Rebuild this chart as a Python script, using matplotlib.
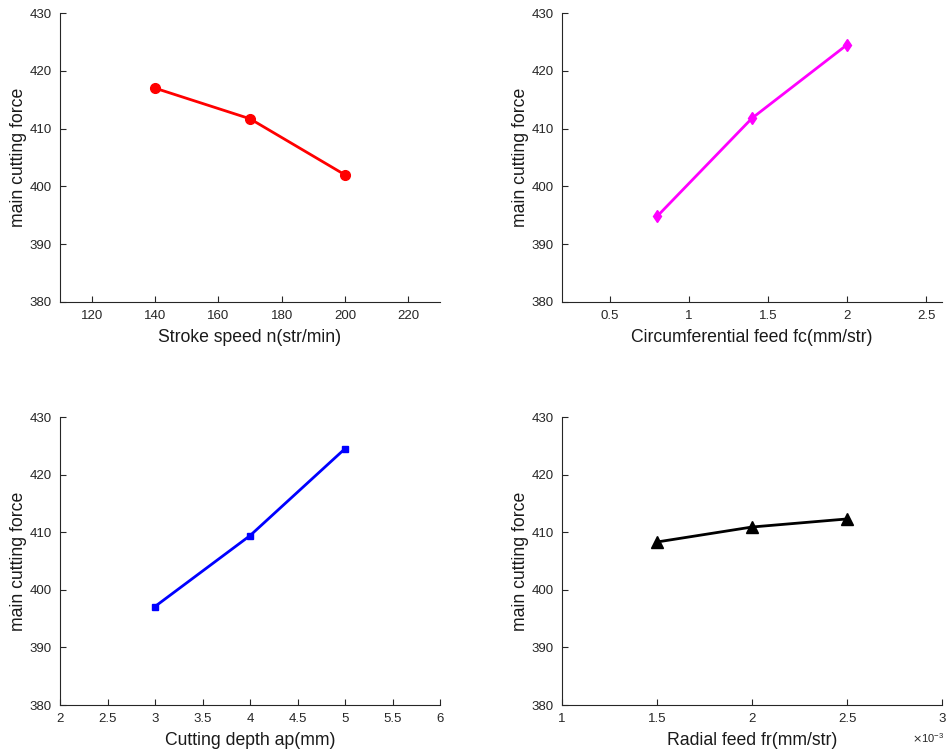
import matplotlib
matplotlib.use("Agg")
import matplotlib.pyplot as plt
from matplotlib.ticker import FuncFormatter, MultipleLocator

plt.rcParams['font.family'] = ['Liberation Sans', 'DejaVu Sans']

# Data
speed = [140, 170, 200]
force_speed = [417.0, 411.7, 402.0]

circ_feed = [0.8, 1.4, 2.0]
force_circ = [394.8, 411.8, 424.5]

depth = [3, 4, 5]
force_depth = [397.1, 409.4, 424.5]

radial_feed = [0.0015, 0.0020, 0.0025]
force_radial = [408.3, 410.9, 412.3]

ylabel = "main cutting force"
xlabels = ["Stroke speed n(str/min)", "Circumferential feed fc(mm/str)",
           "Cutting depth ap(mm)", "Radial feed fr(mm/str)"]

fig = plt.figure(figsize=(9.46, 7.54), dpi=100)
W, H = 946, 754
def axrect(x0, x1, ytop, ybot):
    return [x0 / W, 1 - ybot / H, (x1 - x0) / W, (ybot - ytop) / H]

axes = [
    fig.add_axes(axrect(60, 440, 13, 302)),
    fig.add_axes(axrect(562, 942, 13, 302)),
    fig.add_axes(axrect(60, 440, 417, 705)),
    fig.add_axes(axrect(562, 942, 417, 705)),
]

ax_col = '#262626'
fmt_g = FuncFormatter(lambda v, p: f"{v:g}")

specs = [
    (speed, force_speed, 'red', 'o', 7, (110, 230), 20),
    (circ_feed, force_circ, 'magenta', 'd', 6, (0.2, 2.6), 0.5),
    (depth, force_depth, 'blue', 's', 4, (2, 6), 0.5),
    (radial_feed, force_radial, 'black', '^', 8, (0.001, 0.003), 0.0005),
]

for ax, (x, y, c, m, ms, xl, step), xlab in zip(axes, specs, xlabels):
    ax.plot(x, y, color=c, marker=m, markersize=ms, linewidth=2)
    ax.set_xlim(*xl)
    ax.set_ylim(380, 430)
    ax.xaxis.set_major_locator(MultipleLocator(step))
    ax.yaxis.set_major_locator(MultipleLocator(10))
    ax.spines['top'].set_visible(False)
    ax.spines['right'].set_visible(False)
    for s in ('left', 'bottom'):
        ax.spines[s].set_color(ax_col)
        ax.spines[s].set_linewidth(0.8)
    ax.tick_params(direction='in', length=4, width=0.8, colors=ax_col,
                   labelsize=9.5, pad=6)
    ax.set_ylabel(ylabel, fontsize=12.7, color='#1a1a1a', labelpad=2)
    ax.set_xlabel(xlab, fontsize=12.7, color='#1a1a1a', labelpad=5)
    ax.yaxis.set_major_formatter(fmt_g)

axes[0].xaxis.set_major_formatter(fmt_g)
axes[1].xaxis.set_major_formatter(fmt_g)
axes[2].xaxis.set_major_formatter(fmt_g)
axes[3].xaxis.set_major_formatter(FuncFormatter(lambda v, p: f"{v*1e3:g}"))
fig.text(944 / W, 1 - 738 / H, r"$\times\mathdefault{10^{-3}}$",
         fontsize=8, color=ax_col, ha='right', va='center')

fig.savefig("out.png", dpi=100, facecolor='white')
